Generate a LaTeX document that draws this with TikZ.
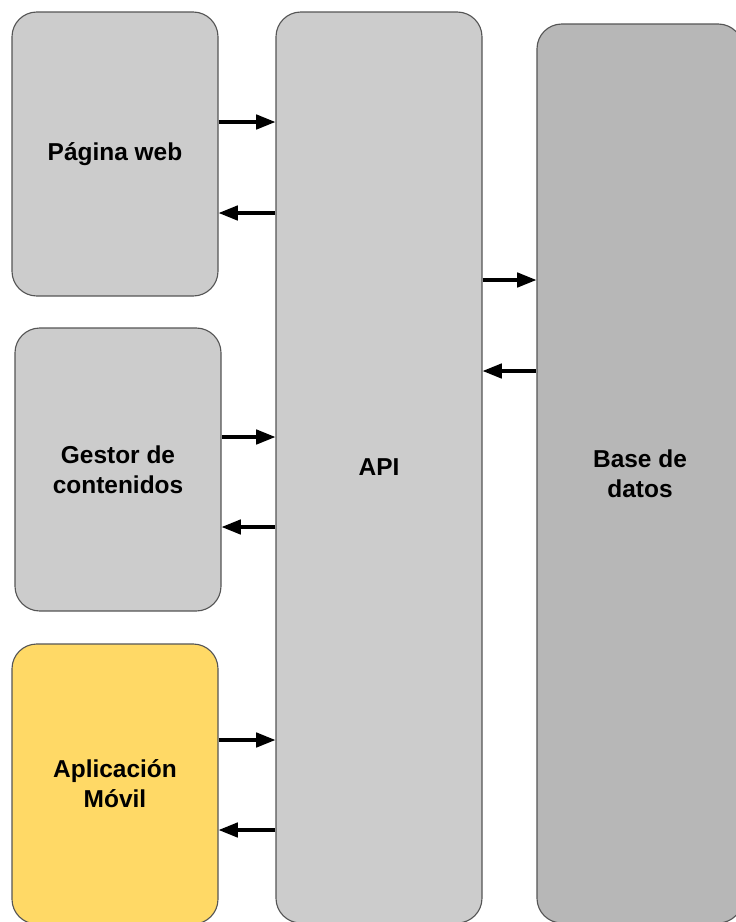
\documentclass[tikz,border=0pt]{standalone}
\usepackage{fontspec}
\setmainfont{Liberation Sans}
\usetikzlibrary{arrows.meta}
\definecolor{boxline}{RGB}{85,85,85}
\definecolor{apifill}{RGB}{204,204,204}
\definecolor{dbfill}{RGB}{183,183,183}
\definecolor{appfill}{RGB}{255,217,102}

\begin{document}
\begin{tikzpicture}
        \tikzstyle{block} = [draw=boxline, line width=0.8pt, rounded corners=0.62cm,
            minimum width=5.15cm, inner sep=0pt, align=center,
            font=\fontsize{17.4}{21.5}\selectfont\bfseries]
        \tikzstyle{flow} = [line width=2.3pt, -{Triangle[length=0.48cm, width=0.36cm]}]
        \clip (0, 0) rectangle (18.4, -23.05);

        \node[block, fill=apifill, minimum height=7.1cm] (web) at (2.875, -3.85) {Página web};
        \node[block, fill=apifill, minimum height=7.075cm] (gestor) at (2.95, -11.7375) {Gestor de\\contenidos};
        \node[block, fill=appfill, minimum height=7.0cm] (app) at (2.875, -19.6) {Aplicación\\Móvil};
        \node[block, fill=apifill, minimum height=22.775cm] (api) at (9.475, -11.6875) {API};
        \node[block, fill=dbfill, minimum height=22.475cm] (db) at (16.0, -11.8375) {Base de\\datos};

        \draw[flow] (web.east |- 0, -3.05) -- (api.west |- 0, -3.05);
        \draw[flow] (api.west |- 0, -5.325) -- (web.east |- 0, -5.325);
        \draw[flow] (gestor.east |- 0, -10.925) -- (api.west |- 0, -10.925);
        \draw[flow] (api.west |- 0, -13.175) -- (gestor.east |- 0, -13.175);
        \draw[flow] (app.east |- 0, -18.5) -- (api.west |- 0, -18.5);
        \draw[flow] (api.west |- 0, -20.75) -- (app.east |- 0, -20.75);
        \draw[flow] (api.east |- 0, -7.0) -- (db.west |- 0, -7.0);
        \draw[flow] (db.west |- 0, -9.275) -- (api.east |- 0, -9.275);
    \end{tikzpicture}
\end{document}
